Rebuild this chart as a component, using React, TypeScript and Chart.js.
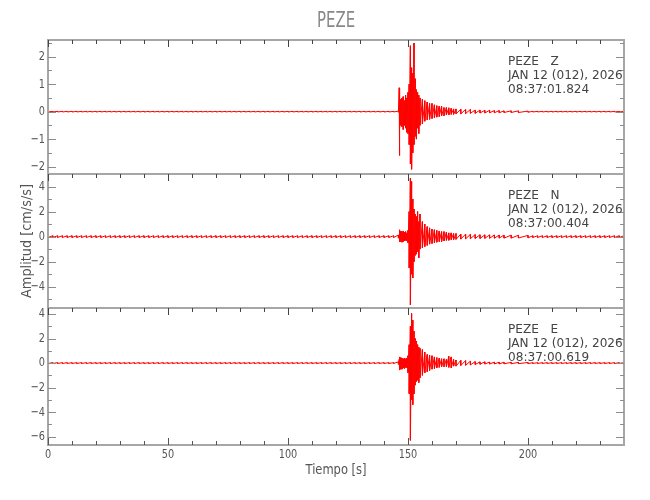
import React, { useEffect, useRef } from "react";
import { Chart, registerables } from "chart.js";

Chart.register(...registerables);

// ---------- text ----------
const chartTitle = "PEZE";
const station = "PEZE";
const components = ["Z", "N", "E"];
const dateLabel = "JAN 12 (012), 2026";
const startTimes = ["08:37:01.824", "08:37:00.404", "08:37:00.619"];
const xTitle = "Tiempo [s]";
const yTitle = "Amplitud [cm/s/s]";

// ---------- ticks ----------
const xMajorTicks = [0, 50, 100, 150, 200];
const xMinorTicks = [10, 20, 30, 40, 60, 70, 80, 90, 110, 120, 130, 140, 160, 170, 180, 190, 210, 220, 230];
const zMajorTicks = [-2, -1, 0, 1, 2];
const zMinorTicks = [-1.5, -0.5, 0.5, 1.5, 2.5];
const nMajorTicks = [-4, -2, 0, 2, 4];
const nMinorTicks = [-5, -3, -1, 1, 3];
const eMajorTicks = [-6, -4, -2, 0, 2, 4];
const eMinorTicks = [-5, -3, -1, 1, 3];

// ---------- axis ranges ----------
const xRange = [0, 240];
const zRange = [-2.27, 2.61];
const nRange = [-5.7, 5.0];
const eRange = [-6.68, 4.49];

// ---------- data (envelope of each trace) ----------
const preTimes = [0, 2, 4, 6, 8, 10, 12, 14, 16, 18, 20, 22, 24, 26, 28, 30, 32, 34, 36, 38, 40, 42, 44, 46, 48, 50, 52, 54, 56, 58, 60, 62, 64, 66, 68, 70, 72, 74, 76, 78, 80, 82, 84, 86, 88, 90, 92, 94, 96, 98, 100, 102, 104, 106, 108, 110, 112, 114, 116, 118, 120, 122, 124, 126, 128, 130, 132, 134, 136, 138, 140, 142, 144];
const postTimes = [202, 204, 206, 208, 210, 212, 214, 216, 218, 220, 222, 224, 226, 228, 230, 232, 234, 236, 238, 240];
const eventTimes = [146.0, 146.3, 146.6, 147, 147.5, 148, 148.5, 149, 149.5, 150, 150.5, 151, 151.5, 152, 152.5, 153, 153.5, 154, 154.5, 155, 156, 157, 158, 159, 160, 161, 162, 163, 164, 165, 166, 167, 168, 169, 170, 172, 174, 176, 178, 180, 182, 184, 186, 188, 190, 193, 196, 200];

const zHigh = [0.02, 0.87, 0.55, 0.45, 0.5, 0.55, 0.4, 0.6, 0.5, 0.7, 1.0, 2.4, 1.6, 1.4, 2.5, 1.2, 0.8, 0.7, 0.6, 0.5, 0.45, 0.4, 0.35, 0.3, 0.3, 0.25, 0.22, 0.2, 0.2, 0.15, 0.15, 0.14, 0.12, 0.1, 0.1, 0.09, 0.08, 0.08, 0.06, 0.06, 0.05, 0.05, 0.04, 0.04, 0.03, 0.03, 0.03, 0.02];
const zLow = [-0.02, -1.6, -0.6, -0.5, -0.55, -0.65, -0.5, -0.6, -0.75, -0.8, -1.2, -1.9, -2.1, -1.5, -1.2, -0.9, -1.0, -0.6, -0.8, -0.5, -0.45, -0.35, -0.3, -0.28, -0.25, -0.22, -0.2, -0.18, -0.15, -0.15, -0.12, -0.12, -0.1, -0.1, -0.08, -0.08, -0.07, -0.06, -0.06, -0.05, -0.05, -0.04, -0.04, -0.04, -0.03, -0.03, -0.03, -0.02];

const nHigh = [0.12, 0.15, 0.55, 0.45, 0.4, 0.45, 0.35, 0.4, 0.3, 0.5, 2.0, 4.67, 4.4, 3.0, 2.2, 1.8, 1.6, 2.0, 1.2, 1.8, 1.2, 1.0, 0.8, 0.7, 0.6, 0.55, 0.5, 0.45, 0.4, 0.4, 0.35, 0.3, 0.3, 0.25, 0.25, 0.2, 0.2, 0.18, 0.16, 0.15, 0.14, 0.14, 0.13, 0.13, 0.12, 0.12, 0.11, 0.1];
const nLow = [-0.12, -0.15, -0.4, -0.4, -0.45, -0.4, -0.35, -0.3, -0.35, -0.5, -2.5, -5.45, -3.0, -3.3, -2.0, -1.5, -1.4, -1.2, -1.7, -1.0, -0.9, -0.8, -0.7, -0.6, -0.55, -0.5, -0.45, -0.4, -0.4, -0.35, -0.3, -0.3, -0.25, -0.25, -0.22, -0.2, -0.18, -0.16, -0.15, -0.15, -0.14, -0.13, -0.13, -0.12, -0.12, -0.12, -0.11, -0.1];

const eHigh = [0.1, 0.3, 0.5, 0.45, 0.4, 0.35, 0.4, 0.35, 0.4, 0.6, 1.5, 3.0, 4.05, 3.5, 2.6, 2.0, 1.8, 1.5, 1.3, 1.2, 1.1, 0.9, 0.7, 0.65, 0.6, 0.5, 0.45, 0.4, 0.35, 0.35, 0.3, 0.55, 0.5, 0.3, 0.25, 0.22, 0.2, 0.15, 0.12, 0.1, 0.1, 0.08, 0.08, 0.07, 0.07, 0.06, 0.06, 0.05];
const eLow = [-0.1, -0.35, -0.57, -0.5, -0.5, -0.4, -0.45, -0.35, -0.4, -0.8, -2.5, -6.3, -3.0, -3.4, -2.5, -1.8, -1.5, -1.4, -1.6, -1.2, -1.0, -0.8, -0.7, -0.6, -0.5, -0.45, -0.4, -0.35, -0.3, -0.3, -0.3, -0.35, -0.4, -0.25, -0.25, -0.2, -0.18, -0.15, -0.12, -0.1, -0.08, -0.08, -0.07, -0.07, -0.06, -0.06, -0.05, -0.05];

// background noise amplitude (before / after the event) per trace
const zNoise = 0.012;
const nNoise = 0.07;
const eNoise = 0.035;

const FONT = '"DejaVu Sans", sans-serif';
const RED = "#ff0000";
const FRAME = "#a6a6a6";

function buildTrace(high: number[], low: number[], noise: number) {
  const pts: { x: number; y: number }[] = [];
  preTimes.forEach((t) => {
    pts.push({ x: t, y: noise });
    pts.push({ x: t, y: -noise });
  });
  eventTimes.forEach((t, i) => {
    pts.push({ x: t, y: high[i] });
    pts.push({ x: t, y: low[i] });
  });
  postTimes.forEach((t) => {
    pts.push({ x: t, y: noise });
    pts.push({ x: t, y: -noise });
  });
  return pts;
}

const panels = [
  { id: "yZ", major: zMajorTicks, minor: zMinorTicks },
  { id: "yN", major: nMajorTicks, minor: nMinorTicks },
  { id: "yE", major: eMajorTicks, minor: eMinorTicks },
];

const fmt = (v: number) => (v < 0 ? "\u2212" + Math.abs(v) : String(v));

function txt(c: CanvasRenderingContext2D, s: string, x: number, y: number, sx: number) {
  c.save();
  c.translate(x, y);
  c.scale(sx, 1);
  c.fillText(s, 0, 0);
  c.restore();
}

const framePlugin = {
  id: "seismoFrame",
  afterDraw(chart: any) {
    const c: CanvasRenderingContext2D = chart.ctx;
    const xs = chart.scales.x;
    const L = xs.left;
    const R = xs.right;
    c.save();

    panels.forEach((p, idx) => {
      const ys = chart.scales[p.id];
      const T = ys.top;
      const B = ys.bottom;

      // frame
      c.strokeStyle = FRAME;
      c.lineWidth = 2;
      c.strokeRect(L, T, R - L, B - T);

      // y ticks (both sides, pointing inwards)
      c.lineWidth = 1;
      c.strokeStyle = "#8c8c8c";
      const yTick = (v: number, len: number) => {
        const y = Math.round(ys.getPixelForValue(v)) + 0.5;
        c.beginPath();
        c.moveTo(L, y);
        c.lineTo(L + len, y);
        c.moveTo(R, y);
        c.lineTo(R - len, y);
        c.stroke();
      };
      p.major.forEach((v) => yTick(v, 8));
      p.minor.forEach((v) => yTick(v, 4));

      // x ticks at top of each panel (pointing down)
      c.strokeStyle = "#444";
      const xTickTop = (v: number, len: number) => {
        const x = Math.round(xs.getPixelForValue(v)) + 0.5;
        c.beginPath();
        c.moveTo(x, T);
        c.lineTo(x, T + len);
        c.stroke();
      };
      xMajorTicks.forEach((v) => xTickTop(v, 7));
      xMinorTicks.forEach((v) => xTickTop(v, 4));

      // y tick labels
      c.fillStyle = "#555";
      c.font = `13px ${FONT}`;
      c.textAlign = "right";
      c.textBaseline = "middle";
      p.major.forEach((v) => txt(c, fmt(v), L - 3, ys.getPixelForValue(v), 0.75));

      // station annotation
      c.fillStyle = "#444";
      c.font = `13px ${FONT}`;
      c.textAlign = "left";
      const lines = [`${station}   ${components[idx]}`, dateLabel, startTimes[idx]];
      lines.forEach((s, k) => txt(c, s, 508, T + 22 + k * 14, 0.93));

      // bottom x ticks for last panel
      if (idx === panels.length - 1) {
        c.strokeStyle = "#555";
        const xTickBot = (v: number, len: number) => {
          const x = Math.round(xs.getPixelForValue(v)) + 0.5;
          c.beginPath();
          c.moveTo(x, B);
          c.lineTo(x, B - len);
          c.stroke();
        };
        xMajorTicks.forEach((v) => xTickBot(v, 7));
        xMinorTicks.forEach((v) => xTickBot(v, 4));

        c.fillStyle = "#555";
        c.font = `13px ${FONT}`;
        c.textAlign = "center";
        c.textBaseline = "top";
        xMajorTicks.forEach((v) => txt(c, String(v), xs.getPixelForValue(v), B + 3, 0.75));

        c.font = `14px ${FONT}`;
        txt(c, xTitle, (L + R) / 2, B + 18, 0.82);
      }
    });

    // chart title
    c.fillStyle = "#888";
    c.font = `22px ${FONT}`;
    c.textAlign = "center";
    c.textBaseline = "middle";
    txt(c, chartTitle, (L + R) / 2, 21, 0.68);

    // y title
    const mid = chart.scales.yN;
    c.save();
    c.translate(27, (mid.top + mid.bottom) / 2);
    c.rotate(-Math.PI / 2);
    c.fillStyle = "#555";
    c.font = `14px ${FONT}`;
    txt(c, yTitle, 0, 0, 0.92);
    c.restore();

    c.restore();
  },
};

export default function App() {
  const ref = useRef<HTMLCanvasElement>(null);

  useEffect(() => {
    const canvas = ref.current;
    if (!canvas) return;
    const mk = (data: any, axis: string) => ({
      data,
      yAxisID: axis,
      borderColor: RED,
      borderWidth: 1,
      pointRadius: 0,
      tension: 0,
      fill: false,
    });
    const chart = new Chart(canvas, {
      type: "line",
      data: {
        datasets: [
          mk(buildTrace(zHigh, zLow, zNoise), "yZ"),
          mk(buildTrace(nHigh, nLow, nNoise), "yN"),
          mk(buildTrace(eHigh, eLow, eNoise), "yE"),
        ],
      },
      options: {
        animation: false,
        responsive: false,
        maintainAspectRatio: false,
        events: [],
        layout: { padding: { left: 48, right: 26, top: 40, bottom: 55 } },
        plugins: { legend: { display: false }, tooltip: { enabled: false }, title: { display: false } },
        scales: {
          x: { type: "linear", min: xRange[0], max: xRange[1], display: false },
          yE: { type: "linear", min: eRange[0], max: eRange[1], display: false, position: "left", stack: "traces", stackWeight: 137 },
          yN: { type: "linear", min: nRange[0], max: nRange[1], display: false, position: "left", stack: "traces", stackWeight: 134 },
          yZ: { type: "linear", min: zRange[0], max: zRange[1], display: false, position: "left", stack: "traces", stackWeight: 134 },
        },
      } as any,
      plugins: [framePlugin],
    });
    return () => chart.destroy();
  }, []);

  return (
    <div style={{ position: "absolute", left: 0, top: 0, width: 650, height: 500, background: "#fff" }}>
      <canvas ref={ref} width={650} height={500} style={{ width: 650, height: 500, display: "block" }} />
    </div>
  );
}
